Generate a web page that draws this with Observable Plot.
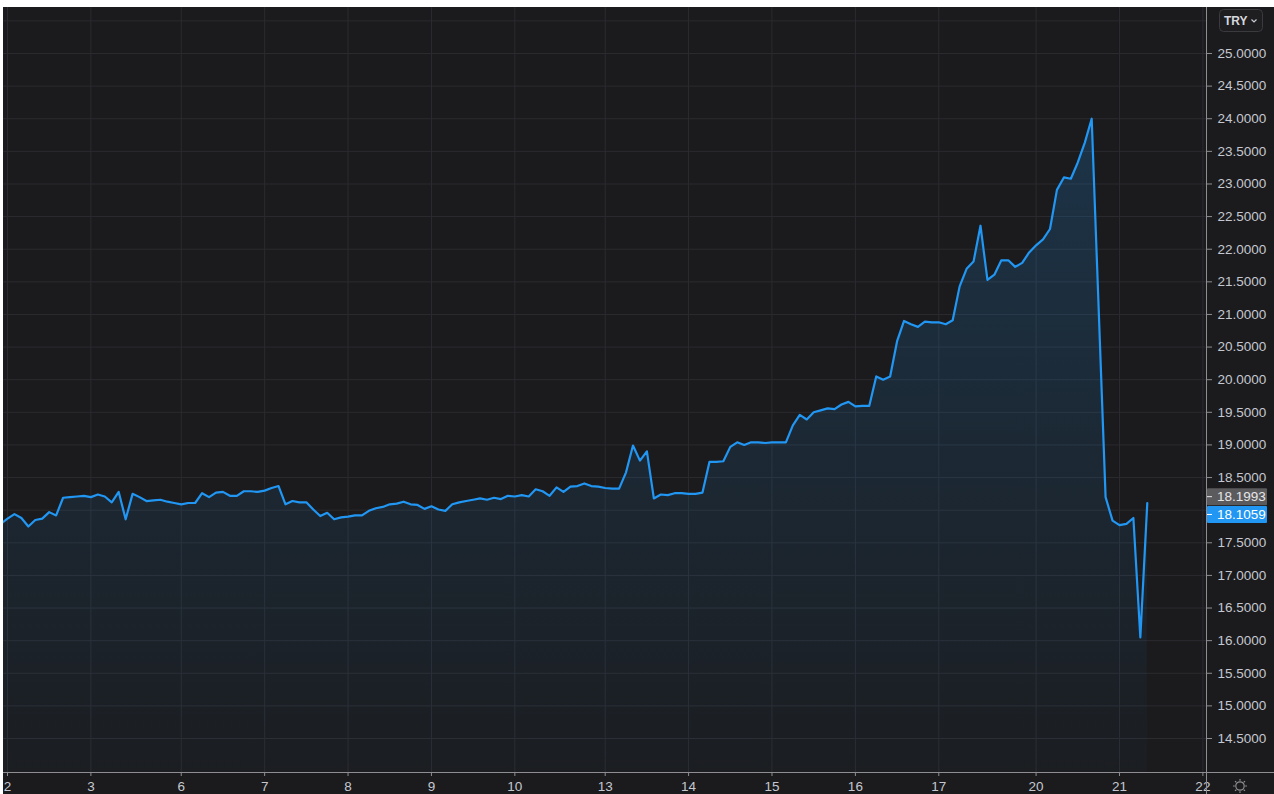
<!DOCTYPE html>
<html><head><meta charset="utf-8">
<script src="https://cdn.jsdelivr.net/npm/d3@7"></script>
<script src="https://cdn.jsdelivr.net/npm/@observablehq/plot@0.6"></script>
<style>
html,body{margin:0;padding:0;background:#ffffff;}
#chart{position:absolute;left:3px;top:7px;width:1271px;height:787px;background:#1b1b1d;overflow:hidden;}
</style></head><body><div id="chart"></div>
<script>
// Day labels on the time axis and the bar index at which each day starts (2-hour bars)
const dayLabels   = ["2","3","6","7","8","9","10","13","14","15","16","17","20","21","22"];
const dayStartBar = [0, 12, 25, 37, 49, 61, 73, 86, 98, 110, 122, 134, 148, 160, 172];
// Bars from -1 to 164; bar 157 has no print
const firstBar = -1, lastBar = 164, missingBar = 157;
// Exchange rate (TRY) per bar
const rate = [
  17.79, 17.87, 17.94, 17.88, 17.75, 17.85, 17.87, 17.97, 17.92, 18.19,
  18.20, 18.21, 18.22, 18.20, 18.24, 18.21, 18.12, 18.28, 17.86, 18.25,
  18.20, 18.14, 18.15, 18.16, 18.13, 18.11, 18.09, 18.11, 18.11, 18.26,
  18.20, 18.27, 18.28, 18.22, 18.22, 18.29, 18.29, 18.28, 18.30, 18.34,
  18.37, 18.09, 18.14, 18.12, 18.12, 18.01, 17.91, 17.96, 17.86, 17.89,
  17.90, 17.92, 17.92, 17.99, 18.03, 18.05, 18.09, 18.10, 18.13, 18.09,
  18.08, 18.02, 18.06, 18.01, 17.99, 18.09, 18.12, 18.14, 18.16, 18.18,
  18.16, 18.19, 18.17, 18.22, 18.21, 18.23, 18.21, 18.32, 18.29, 18.22,
  18.35, 18.28, 18.36, 18.37, 18.41, 18.37, 18.36, 18.34, 18.33, 18.33,
  18.58, 18.99, 18.76, 18.90, 18.18, 18.24, 18.23, 18.26, 18.26, 18.25,
  18.25, 18.27, 18.74, 18.74, 18.75, 18.97, 19.04, 19.00, 19.04, 19.04,
  19.03, 19.04, 19.04, 19.04, 19.30, 19.46, 19.39, 19.50, 19.53, 19.56,
  19.55, 19.62, 19.66, 19.59, 19.60, 19.60, 20.05, 20.00, 20.05, 20.59,
  20.90, 20.85, 20.81, 20.89, 20.88, 20.88, 20.85, 20.91, 21.43, 21.70,
  21.81, 22.36, 21.53, 21.61, 21.83, 21.83, 21.73, 21.79, 21.95, 22.06,
  22.15, 22.31, 22.91, 23.10, 23.08, 23.33, 23.63, 24.00,
  18.20, 17.84, 17.77, 17.79, 17.88, 16.05, 18.11
];
// Price axis ticks (18.0000 is hidden behind the price markers) and grid
const yTicks = [14.5,15,15.5,16,16.5,17,17.5,18.5,19,19.5,20,20.5,21,21.5,22,22.5,23,23.5,24,24.5,25];
const yGrid  = [14.5,15,15.5,16,16.5,17,17.5,18,18.5,19,19.5,20,20.5,21,21.5,22,22.5,23,23.5,24,24.5,25,25.5];
// Price markers on the axis: reference price and last price
const refPrice = 18.1993, lastPrice = 18.1059;
const currency = "TRY";

const bars = d3.range(firstBar, lastBar + 1).filter(k => k !== missingBar);
const data = rate.map((v, i) => ({bar: bars[i], rate: v}));

const W = 1271, H = 787;
const yDomain = [13.979, 25.705];
const FONT = "'Liberation Sans', Arial, sans-serif";
const textColor = "#c5c8d0", axisColor = "#8e8e92", gridColor = "#2b2b30", blue = "#2196f3";

const plot = Plot.plot({
  width: W, height: H,
  marginLeft: 0, marginRight: 68, marginTop: 0, marginBottom: 22,
  style: {background: "#1b1b1d", color: textColor, fontFamily: FONT, fontSize: "13.5px", overflow: "visible"},
  x: {domain: [-0.5755, 172.52]},
  y: {domain: yDomain},
  marks: [
    Plot.gridY(yGrid, {stroke: gridColor, strokeOpacity: 1}),
    Plot.gridX(dayStartBar, {stroke: gridColor, strokeOpacity: 1}),
    Plot.areaY(data, {x: "bar", y1: yDomain[0], y2: "rate", fill: "url(#areaGrad)", clip: true}),
    Plot.line(data, {x: "bar", y: "rate", stroke: blue, strokeWidth: 2.2, strokeLinejoin: "round", clip: true}),
    Plot.axisY({ticks: yTicks, anchor: "right", tickSize: 5, tickPadding: 6, tickFormat: d => d.toFixed(4),
                stroke: axisColor, fill: textColor, label: null}),
    Plot.axisX({ticks: dayStartBar, anchor: "bottom", tickSize: 4, tickPadding: 5,
                tickFormat: d => dayLabels[dayStartBar.indexOf(d)], stroke: axisColor, fill: textColor, label: null})
  ]
});

document.getElementById("chart").appendChild(plot);

const svg = d3.select(plot);
const ys = plot.scale("y");
const frameRight = W - 68, frameBottom = H - 22;

// gradient for the area
const defs = svg.insert("defs", ":first-child");
const g = defs.append("linearGradient").attr("id", "areaGrad")
  .attr("gradientUnits", "userSpaceOnUse").attr("x1", 0).attr("x2", 0)
  .attr("y1", ys.apply(d3.max(rate))).attr("y2", frameBottom);
g.append("stop").attr("offset", "0%").attr("stop-color", blue).attr("stop-opacity", 0.2);
g.append("stop").attr("offset", "100%").attr("stop-color", blue).attr("stop-opacity", 0.02);

const deco = svg.append("g").attr("text-anchor", "start");
// axis lines
deco.append("line").attr("x1", frameRight + 0.5).attr("x2", frameRight + 0.5).attr("y1", 0).attr("y2", H)
  .attr("stroke", axisColor);
deco.append("line").attr("x1", 0).attr("x2", W).attr("y1", frameBottom + 0.5).attr("y2", frameBottom + 0.5)
  .attr("stroke", axisColor);

// price markers
function marker(value, dy, bg, fg) {
  const cy = ys.apply(value) + dy;
  deco.append("rect").attr("x", frameRight + 1).attr("y", cy - 8.5).attr("width", 60).attr("height", 17)
    .attr("fill", bg).attr("rx", 1);
  deco.append("line").attr("x1", frameRight + 1).attr("x2", frameRight + 6).attr("y1", cy).attr("y2", cy)
    .attr("stroke", fg);
  deco.append("text").attr("x", frameRight + 11).attr("y", cy).attr("dy", "0.35em")
    .attr("text-anchor", "start").attr("fill", fg).attr("font-family", FONT).attr("font-size", "13.5px")
    .text(value.toFixed(4));
}
marker(refPrice, 0, "#5b5b5e", "#e6e6e8");
marker(lastPrice, 11.7, blue, "#ffffff");

// currency button
deco.append("rect").attr("x", 1216.5).attr("y", 2.5).attr("width", 43).attr("height", 22).attr("rx", 4)
  .attr("fill", "#1e1e21").attr("stroke", "#3a3a3f");
deco.append("text").attr("x", 1221).attr("y", 13.5).attr("dy", "0.35em").attr("text-anchor", "start")
  .attr("fill", "#d6d8de").attr("font-family", FONT).attr("font-size", "12px").attr("font-weight", "bold")
  .text(currency);
deco.append("path").attr("d", "M1248.5,12.5 L1251,15 L1253.5,12.5").attr("fill", "none")
  .attr("stroke", "#c5c8d0").attr("stroke-width", 1.2);

// settings icon bottom right
const cx = 1237, cy = 779;
deco.append("circle").attr("cx", cx).attr("cy", cy).attr("r", 4.2).attr("fill", "none").attr("stroke", axisColor).attr("stroke-width", 1.2);
for (let a = 0; a < 8; a++) {
  const t = a * Math.PI / 4;
  deco.append("line").attr("x1", cx + Math.cos(t) * 5.2).attr("y1", cy + Math.sin(t) * 5.2)
    .attr("x2", cx + Math.cos(t) * 7).attr("y2", cy + Math.sin(t) * 7)
    .attr("stroke", axisColor).attr("stroke-width", 1.2);
}
</script></body></html>
